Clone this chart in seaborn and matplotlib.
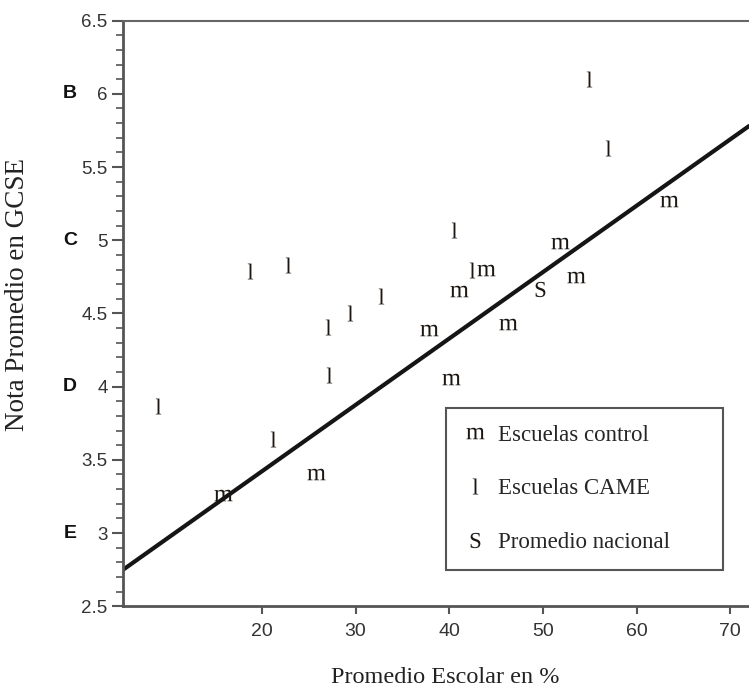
import numpy as np
import pandas as pd
import matplotlib
matplotlib.use("Agg")
import matplotlib.pyplot as plt
import seaborn as sns
from matplotlib.lines import Line2D
from matplotlib.ticker import MultipleLocator
from matplotlib.transforms import blended_transform_factory

# ---- data ----
came_x = [8.9, 18.7, 22.8, 27.1, 29.4, 32.7, 27.2, 21.2, 40.5, 42.4, 54.9, 57.0]
came_y = [3.87, 4.79, 4.83, 4.41, 4.50, 4.62, 4.08, 3.64, 5.07, 4.80, 6.10, 5.63]
control_x = [15.9, 25.8, 37.8, 41.0, 43.9, 40.2, 46.3, 51.8, 53.5, 63.5]
control_y = [3.26, 3.40, 4.39, 4.65, 4.80, 4.05, 4.43, 4.98, 4.75, 5.27]
national_x = [49.7]
national_y = [4.67]
fit_x = [5.2, 72.0]
fit_y = [2.75, 5.78]

x_ticks = [20, 30, 40, 50, 60, 70]
y_ticks = [2.5, 3, 3.5, 4, 4.5, 5, 5.5, 6, 6.5]
y_tick_labels = ["2.5", "3", "3.5", "4", "4.5", "5", "5.5", "6", "6.5"]
grade_labels = ["B", "C", "D", "E"]
grade_values = [6, 5, 4, 3]
legend_labels = ["Escuelas control", "Escuelas CAME", "Promedio nacional"]

# ---- style ----
sns.set_style("ticks")
plt.rcParams["font.family"] = ["Liberation Sans", "DejaVu Sans"]
plt.rcParams["mathtext.fontset"] = "custom"
plt.rcParams["mathtext.rm"] = "Liberation Serif"

fig = plt.figure(figsize=(7.49, 6.88), dpi=100)
ax = fig.add_axes([0.1642, 0.1188, 0.8358, 0.8512])

mark_color = "#1c1712"
sns.lineplot(x=fit_x, y=fit_y, ax=ax, color="#151515", lw=3.0, zorder=2)
sns.scatterplot(x=control_x, y=control_y, ax=ax, marker="$\\mathrm{m}$", s=170,
                color=mark_color, linewidth=0, zorder=3)
sns.scatterplot(x=came_x, y=came_y, ax=ax, marker="$\\mathrm{l}$", s=130,
                color=mark_color, linewidth=0, zorder=3)
sns.scatterplot(x=national_x, y=national_y, ax=ax, marker="$\\mathrm{S}$", s=121,
                color=mark_color, linewidth=0, zorder=3)

ax.set_xlim(5.18, 72.0)
ax.set_ylim(2.5, 6.5)
ax.set_xticks(x_ticks)
ax.set_yticks(y_ticks)
ax.set_yticklabels(y_tick_labels)
ax.yaxis.set_minor_locator(MultipleLocator(0.1))

ax.tick_params(axis="y", which="major", length=8, width=1.5, color="#555555",
               labelsize=13.5, pad=3, labelcolor="#333333")
ax.tick_params(axis="y", which="minor", length=5, width=1.2, color="#555555")
ax.tick_params(axis="x", which="major", length=6, width=1.5, color="#555555",
               labelsize=14, pad=6, labelcolor="#333333")

for side in ["left", "bottom"]:
    ax.spines[side].set_linewidth(2)
    ax.spines[side].set_color("#555555")
ax.spines["top"].set_linewidth(1.5)
ax.spines["top"].set_color("#666666")
ax.spines["top"].set_visible(True)
ax.spines["right"].set_visible(False)

trans = blended_transform_factory(ax.transAxes, ax.transData)
for g, v in zip(grade_labels, grade_values):
    ax.text(-0.0847, v, g, transform=trans, ha="center", va="center",
            fontsize=14, fontweight="bold", color="#111111")

ax.set_xlabel("Promedio Escolar en %", fontsize=17.5, family="Liberation Serif", color="#222222")
ax.xaxis.label.set_va("center")
ax.xaxis.set_label_coords(0.514, -0.121)
ax.set_ylabel("Nota Promedio en GCSE", fontsize=19.5, family="Liberation Serif", color="#222222")
ax.yaxis.label.set_va("center")
ax.yaxis.set_label_coords(-0.168, 0.532)

handles = [
    Line2D([], [], ls="", marker="$\\mathrm{m}$", markersize=13, color=mark_color, mew=0, label=legend_labels[0]),
    Line2D([], [], ls="", marker="$\\mathrm{l}$", markersize=11.5, color=mark_color, mew=0, label=legend_labels[1]),
    Line2D([], [], ls="", marker="$\\mathrm{S}$", markersize=11, color=mark_color, mew=0, label=legend_labels[2]),
]
leg = ax.legend(handles=handles, loc="upper left", bbox_to_anchor=(0.516, 0.0364, 0.442, 0.302),
                mode="expand", prop={"family": "Liberation Serif", "size": 16.5}, frameon=True,
                fancybox=False, edgecolor="#555555", framealpha=1, borderpad=0.75,
                borderaxespad=0, labelspacing=1.4, handlelength=1.0, handletextpad=0.5)
leg.get_frame().set_linewidth(1.5)

fig.savefig("out.png", dpi=100)
